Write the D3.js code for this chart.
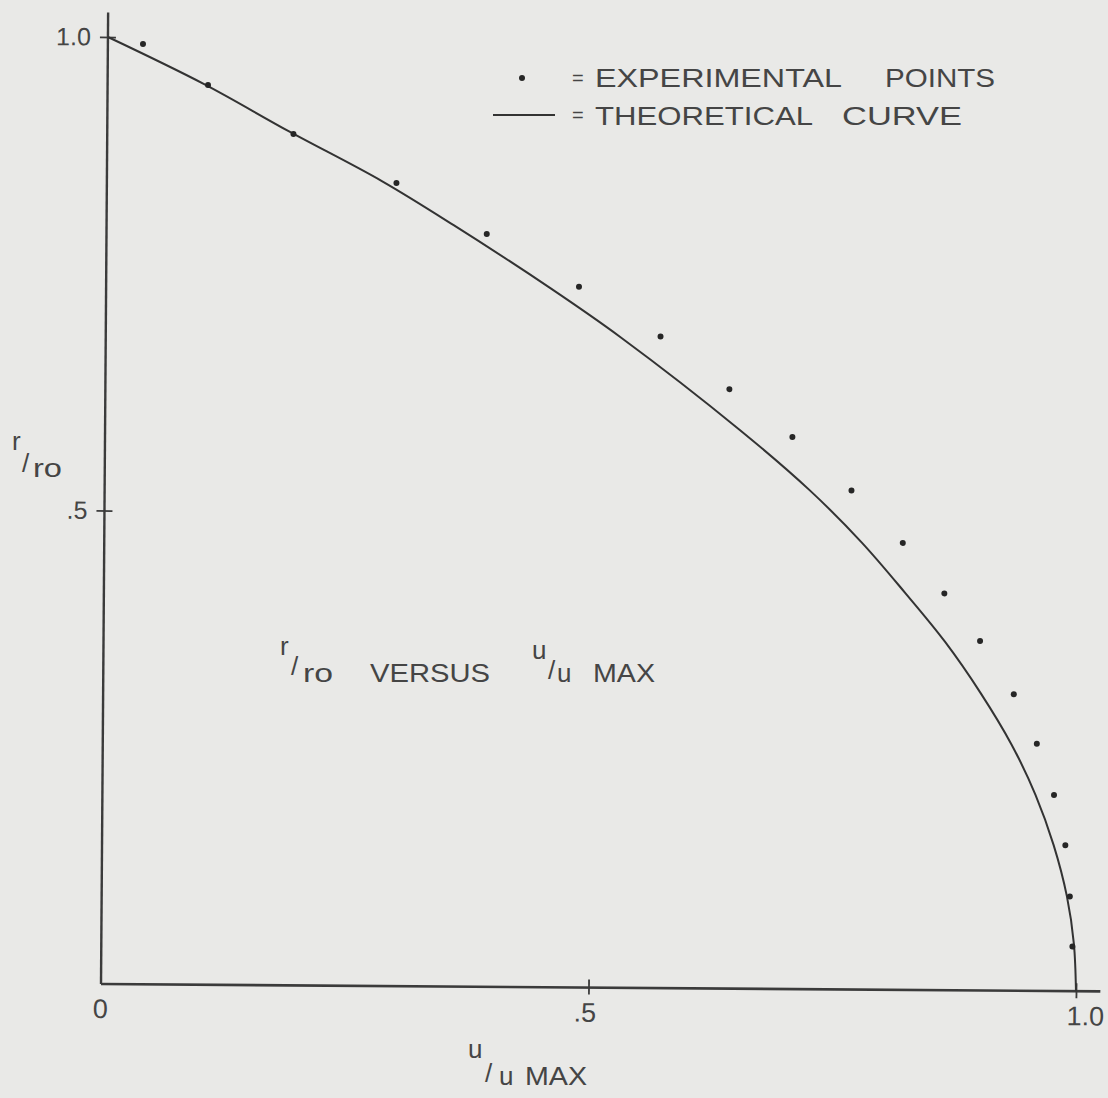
<!DOCTYPE html>
<html>
<head>
<meta charset="utf-8">
<script src="https://cdn.jsdelivr.net/npm/d3@7"></script>
<style>
  html, body { margin: 0; padding: 0; background: #e9e9e7; }
  svg { display: block; }
  text { font-family: "Liberation Sans", Arial, sans-serif; fill: #454545; }
</style>
</head>
<body>
<svg id="chart"></svg>
<script>
// theoretical curve (u/umax, r/ro)
var curve_u = [0, 0.099, 0.186, 0.282, 0.356, 0.456, 0.528, 0.651, 0.723, 0.777, 0.822, 0.863, 0.900, 0.932, 0.957, 0.976, 0.990, 0.9975, 1.0];
var curve_r = [1.0, 0.951, 0.902, 0.850, 0.804, 0.738, 0.687, 0.590, 0.527, 0.472, 0.419, 0.368, 0.314, 0.260, 0.207, 0.154, 0.100, 0.050, 0];

// experimental points
var exp_u = [0.036, 0.103, 0.191, 0.297, 0.390, 0.485, 0.569, 0.640, 0.705, 0.766, 0.819, 0.862, 0.899, 0.934, 0.958, 0.976, 0.988, 0.993, 0.996];
var exp_r = [0.993, 0.950, 0.899, 0.848, 0.795, 0.740, 0.688, 0.633, 0.583, 0.527, 0.472, 0.419, 0.369, 0.313, 0.261, 0.207, 0.154, 0.100, 0.047];

var x_ticks = [0, 0.5, 1];
var x_tick_labels = ['0', '.5', '1.0'];
var y_ticks = [0.5, 1];
var y_tick_labels = ['.5', '1.0'];

var width = 1108, height = 1098;
var origin = [101, 984];
var plot_w = 975, plot_h = 947;
var tilt = 0.42;   // the scanned page is turned a little
var ink = '#3b3b3b';

var svg = d3.select('#chart')
    .attr('width', width)
    .attr('height', height);

svg.append('rect')
    .attr('width', width)
    .attr('height', height)
    .attr('fill', '#e9e9e7');

var x = d3.scaleLinear().domain([0, 1]).range([0, plot_w]);
var y = d3.scaleLinear().domain([0, 1]).range([0, -plot_h]);

var g = svg.append('g')
    .attr('transform', 'translate(' + origin[0] + ',' + origin[1] + ') rotate(' + tilt + ')');

// axis lines, a bit past 1.0
g.append('line')
    .attr('x1', x(0)).attr('y1', y(0))
    .attr('x2', x(1.025)).attr('y2', y(0))
    .attr('stroke', ink).attr('stroke-width', 2.6);
g.append('line')
    .attr('x1', x(0)).attr('y1', y(0))
    .attr('x2', x(0)).attr('y2', y(1.026))
    .attr('stroke', ink).attr('stroke-width', 2.4);

// x ticks
var gx = g.append('g')
    .call(d3.axisBottom(x)
        .tickValues(x_ticks)
        .tickFormat(function(d, i) { return x_tick_labels[i]; })
        .tickSize(0)
        .tickPadding(15));
gx.select('.domain').remove();
gx.selectAll('.tick line')
    .attr('y1', -8).attr('y2', 7)
    .attr('stroke', ink).attr('stroke-width', 1.8)
    .attr('display', function(d) { return d === 0 ? 'none' : null; });
gx.selectAll('.tick text')
    .attr('font-size', 27)
    .attr('font-family', null)
    .attr('fill', null)
    .attr('dx', function(d) { return d === 1 ? 9 : (d === 0 ? -1 : -4); });

// y ticks
var gy = g.append('g')
    .call(d3.axisLeft(y)
        .tickValues(y_ticks)
        .tickFormat(function(d, i) { return y_tick_labels[i]; })
        .tickSize(0)
        .tickPadding(17));
gy.select('.domain').remove();
gy.selectAll('.tick line')
    .attr('x1', -8).attr('x2', 8)
    .attr('stroke', ink).attr('stroke-width', 1.8);
gy.selectAll('.tick text')
    .attr('font-size', 25)
    .attr('font-family', null)
    .attr('fill', null);

// theoretical curve
var curve_data = curve_u.map(function(u, i) { return [u, curve_r[i]]; });
var line = d3.line()
    .x(function(d) { return x(d[0]); })
    .y(function(d) { return y(d[1]); })
    .curve(d3.curveCatmullRom.alpha(0.5));
g.append('path')
    .datum(curve_data)
    .attr('d', line)
    .attr('fill', 'none')
    .attr('stroke', '#333')
    .attr('stroke-width', 2);

// experimental points
g.selectAll('circle.pt')
    .data(exp_u.map(function(u, i) { return [u, exp_r[i]]; }))
    .enter().append('circle')
    .attr('class', 'pt')
    .attr('cx', function(d) { return x(d[0]); })
    .attr('cy', function(d) { return y(d[1]); })
    .attr('r', 3)
    .attr('fill', '#262626');

// text helper
function label(tx, ty, txt, size, len) {
    var t = svg.append('text')
        .attr('x', tx)
        .attr('y', ty)
        .attr('font-size', size)
        .text(txt);
    if (len) t.attr('textLength', len).attr('lengthAdjust', 'spacingAndGlyphs');
    return t;
}

// "a/b" fraction-like label as one text: pieces = [[text, x, y, length], ...]
function fraction(pieces, size) {
    var t = svg.append('text').attr('font-size', size);
    pieces.forEach(function(p) {
        var s = t.append('tspan')
            .attr('x', p[1])
            .attr('y', p[2])
            .text(p[0]);
        if (p[3]) s.attr('textLength', p[3]).attr('lengthAdjust', 'spacingAndGlyphs');
    });
    return t;
}

// legend
svg.append('circle').attr('cx', 522).attr('cy', 78).attr('r', 3).attr('fill', '#262626');
label(572, 85, '=', 20);
label(595, 87, 'EXPERIMENTAL', 26, 247);
label(885, 87, 'POINTS', 26, 110);
svg.append('line')
    .attr('x1', 493).attr('x2', 555)
    .attr('y1', 115).attr('y2', 115)
    .attr('stroke', '#333').attr('stroke-width', 2);
label(572, 122, '=', 20);
label(595, 125, 'THEORETICAL', 26, 218);
label(842, 125, 'CURVE', 26, 120);

// y axis title r/ro
fraction([['r', 12, 450], ['/', 22, 472], ['ro', 33, 477, 29]], 26);

// x axis title u/u MAX
fraction([['u', 468, 1058], ['/', 485, 1082], ['u', 499, 1085], ['MAX', 525, 1085, 62]], 26);

// note in the middle
fraction([['r', 280, 655], ['/', 291, 675], ['ro', 303, 682, 30]], 26);
label(370, 682, 'VERSUS', 26, 120);
fraction([['u', 532, 659], ['/', 548, 679], ['u', 557, 682], ['MAX', 593, 682, 62]], 26);
</script>
</body>
</html>
